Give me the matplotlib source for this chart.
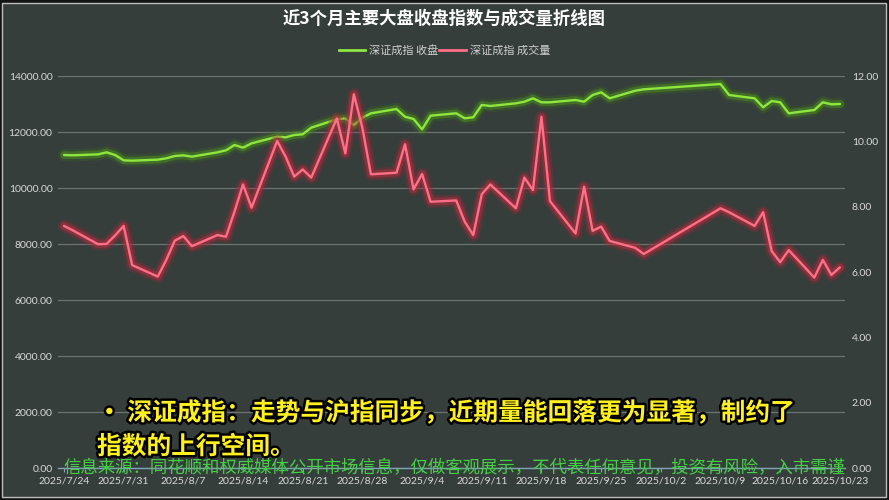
import matplotlib
matplotlib.use('Agg')
import matplotlib.pyplot as plt
import matplotlib.dates as mdates
import matplotlib.patheffects as pe
from matplotlib.patches import Rectangle
from matplotlib.lines import Line2D
import numpy as np

plt.rcParams['font.family'] = ['Noto Sans CJK SC', 'DejaVu Sans']

# ---------------- data ----------------
trade_dates = [
    '2025-07-24', '2025-07-25', '2025-07-28', '2025-07-29', '2025-07-30', '2025-07-31',
    '2025-08-01', '2025-08-04', '2025-08-05', '2025-08-06', '2025-08-07', '2025-08-08',
    '2025-08-11', '2025-08-12', '2025-08-13', '2025-08-14', '2025-08-15',
    '2025-08-18', '2025-08-19', '2025-08-20', '2025-08-21', '2025-08-22',
    '2025-08-25', '2025-08-26', '2025-08-27', '2025-08-28', '2025-08-29',
    '2025-09-01', '2025-09-02', '2025-09-03', '2025-09-04', '2025-09-05',
    '2025-09-08', '2025-09-09', '2025-09-10', '2025-09-11', '2025-09-12',
    '2025-09-15', '2025-09-16', '2025-09-17', '2025-09-18', '2025-09-19',
    '2025-09-22', '2025-09-23', '2025-09-24', '2025-09-25', '2025-09-26',
    '2025-09-29', '2025-09-30',
    '2025-10-09', '2025-10-10',
    '2025-10-13', '2025-10-14', '2025-10-15', '2025-10-16', '2025-10-17',
    '2025-10-20', '2025-10-21', '2025-10-22', '2025-10-23',
]
close = [
    11179, 11167, 11202, 11274, 11179, 10988,
    10976, 11012, 11060, 11143, 11167, 11119,
    11274, 11345, 11536, 11440, 11595,
    11833, 11810, 11893, 11917, 12155,
    12453, 12482, 12250, 12510, 12667,
    12821, 12546, 12464, 12096, 12582,
    12668, 12489, 12525, 12964, 12929,
    13024, 13082, 13203, 13060, 13060,
    13143, 13082, 13321, 13418, 13203,
    13475, 13525,
    13714, 13321,
    13203, 12882, 13107, 13060, 12668,
    12786, 13060, 12989, 13000,
]
volume = [
    7.41, 7.28, 6.85, 6.86, 7.12, 7.41,
    6.21, 5.86, 6.37, 6.96, 7.10, 6.79,
    7.13, 7.08, 7.85, 8.68, 7.97,
    10.01, 9.53, 8.92, 9.14, 8.89,
    10.70, 9.63, 11.44, 10.41, 8.99,
    9.04, 9.91, 8.53, 9.00, 8.15,
    8.19, 7.54, 7.13, 8.38, 8.68,
    7.95, 8.89, 8.51, 10.75, 8.17,
    7.18, 8.61, 7.26, 7.39, 6.95,
    6.74, 6.55,
    7.95, 7.83,
    7.41, 7.83, 6.64, 6.30, 6.67,
    5.83, 6.37, 5.91, 6.14,
]
tick_dates = ['2025-07-24', '2025-07-31', '2025-08-07', '2025-08-14', '2025-08-21',
              '2025-08-28', '2025-09-04', '2025-09-11', '2025-09-18', '2025-09-25',
              '2025-10-02', '2025-10-09', '2025-10-16', '2025-10-23']
tick_labels = ['2025/7/24', '2025/7/31', '2025/8/7', '2025/8/14', '2025/8/21',
               '2025/8/28', '2025/9/4', '2025/9/11', '2025/9/18', '2025/9/25',
               '2025/10/2', '2025/10/9', '2025/10/16', '2025/10/23']
left_ticks = [0, 2000, 4000, 6000, 8000, 10000, 12000, 14000]
right_ticks = [0, 2, 4, 6, 8, 10, 12]
series_names = ['深证成指 收盘', '深证成指 成交量']
title = '近3个月主要大盘收盘指数与成交量折线图'
note_line1 = '・ 深证成指：走势与沪指同步，近期量能回落更为显著，制约了'
note_line2 = '指数的上行空间。'
source_text = '信息来源：同花顺和权威媒体公开市场信息，仅做客观展示，不代表任何意见，投资有风险，入市需谨'

# ---------------- style ----------------
W, H = 889, 500
BG = '#353e3b'
GREEN = '#8fe63f'
RED = '#ff6f87'
TXT = '#d9d9d9'
NUMFONT = ['Lato', 'DejaVu Sans']

fig = plt.figure(figsize=(W / 100, H / 100), dpi=100, facecolor='#141414')
fig.patches.append(Rectangle((2 / W, 3 / H), 884 / W, 494 / H, transform=fig.transFigure,
                             facecolor=BG, edgecolor='#bdbdbd', lw=1.0, zorder=-5))

ax = fig.add_axes([58 / W, 1 - 468 / H, (845 - 58) / W, (468 - 76) / H])
ax.set_facecolor('none')
ax2 = ax.twinx()

x = mdates.date2num(np.array(trade_dates, dtype='datetime64[D]'))
xt = mdates.date2num(np.array(tick_dates, dtype='datetime64[D]'))

glow_g = [pe.Stroke(linewidth=9, foreground='#3d7418', alpha=0.25),
          pe.Stroke(linewidth=5.5, foreground='#4e941f', alpha=0.5),
          pe.Normal()]
glow_r = [pe.Stroke(linewidth=9, foreground='#9a2636', alpha=0.32),
          pe.Stroke(linewidth=5.5, foreground='#b5303f', alpha=0.5),
          pe.Normal()]

ax.plot(x, close, color=GREEN, lw=1.7, path_effects=glow_g, solid_joinstyle='round',
        solid_capstyle='round', zorder=3)
ax2.plot(x, volume, color=RED, lw=1.7, path_effects=glow_r, solid_joinstyle='round',
         solid_capstyle='round', zorder=3)

ax.set_xlim(xt[0] - 0.7, xt[-1] + 0.6)
ax.set_ylim(0, 14000)
ax2.set_ylim(0, 12)

ax.set_yticks(left_ticks)
ax.set_yticklabels([f'{v:.2f}' for v in left_ticks], fontfamily=NUMFONT, fontsize=7.5, color=TXT)
ax2.set_yticks(right_ticks)
ax2.set_yticklabels([f'{v:.2f}' for v in right_ticks], fontfamily=NUMFONT, fontsize=7.5, color=TXT)
ax.set_xticks(xt)
ax.set_xticklabels(tick_labels, fontfamily=NUMFONT, fontsize=7.5, color=TXT)

ax.tick_params(axis='y', length=0, pad=4)
ax2.tick_params(axis='y', length=0, pad=5)
ax.tick_params(axis='x', length=3, color='#7fa3b5', pad=3)

ax.grid(axis='y', color='#6d7371', lw=0.9)
ax.set_axisbelow(True)
for a in (ax, ax2):
    for s in ('top', 'left', 'right', 'bottom'):
        a.spines[s].set_visible(False)
ax.spines['bottom'].set_visible(True)
ax.spines['bottom'].set_color('#7fa3b5')
ax.spines['bottom'].set_linewidth(1.0)

# legend
handles = [Line2D([], [], color=GREEN, lw=2), Line2D([], [], color=RED, lw=2)]
fig.legend(handles, series_names, loc='center', bbox_to_anchor=(0.5, 1 - 50 / H), ncol=2,
           frameon=False, fontsize=8, labelcolor='#d0d0d0', handlelength=2.4,
           handletextpad=0.35, columnspacing=0.1)

# title
fig.text(0.5, 1 - 19 / H, title, ha='center', va='center', color='white',
         fontsize=12.5, fontweight='bold')

# overlay notes
outline = [pe.withStroke(linewidth=3.5, foreground='black')]
fig.text(97 / W, 1 - 413 / H, note_line1, ha='left', va='center', color='#fff01e',
         fontsize=17.8, fontweight='black', path_effects=outline)
fig.text(97 / W, 1 - 447 / H, note_line2, ha='left', va='center', color='#fff01e',
         fontsize=17.8, fontweight='black', path_effects=outline)
fig.text(63 / W, 1 - 468 / H, source_text, ha='left', va='center', color='#45cf45',
         fontsize=12.55)

fig.savefig('out.png', dpi=100, facecolor=fig.get_facecolor())
